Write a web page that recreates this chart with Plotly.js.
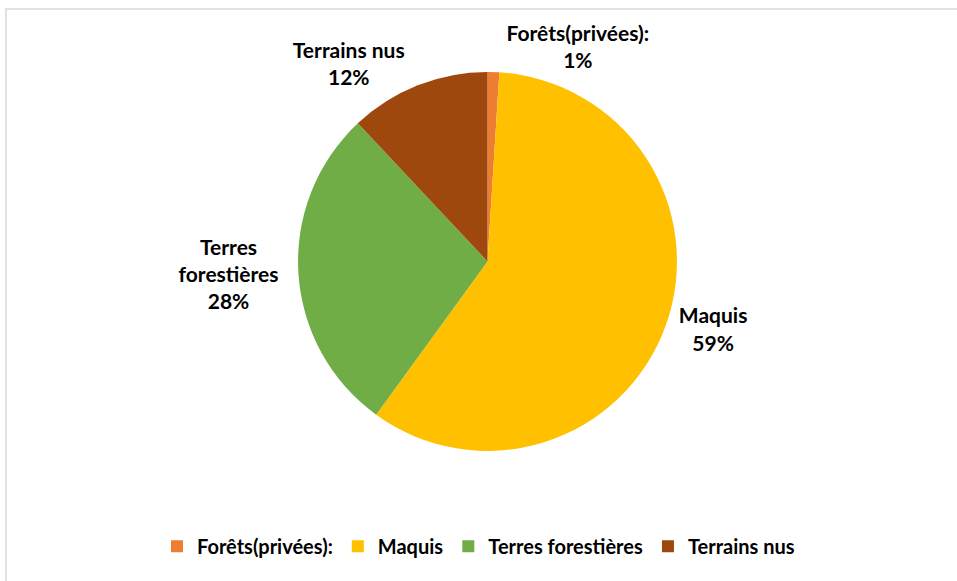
<!DOCTYPE html>
<html>
<head>
<meta charset="utf-8">
<script src="https://cdn.plot.ly/plotly-3.0.1.min.js"></script>
<style>
  html, body { margin: 0; padding: 0; background: #ffffff; }
  #frame { position: absolute; left: 5px; top: 8px; width: 970px; height: 590px; border: 2px solid #dfe3e8; box-sizing: border-box; }
  #chart { position: absolute; left: 0; top: 0; width: 957px; height: 581px; }
</style>
</head>
<body>
<div id="frame"></div>
<div id="chart"></div>
<script>
const categories = ["Forêts(privées):", "Maquis", "Terres forestières", "Terrains nus"];
const sliceLabels = ["Forêts(privées):", "Maquis", "Terres<br>forestières", "Terrains nus"];
const values = [1, 59, 28, 12];
const colors = ["#ED7D31", "#FFC000", "#70AD47", "#9E480E"];

const FONT = 'Lato, "Open Sans", "Noto Sans", sans-serif';

const trace = {
  type: "pie",
  labels: categories,
  values: values,
  text: sliceLabels,
  texttemplate: "<b>%{text}<br>%{percent:.0%}</b>",
  textinfo: "text+percent",
  textposition: "outside",
  outsidetextfont: { family: FONT, size: 21, color: "#000000" },
  sort: false,
  direction: "clockwise",
  rotation: 0,
  marker: { colors: colors, line: { width: 0 } },
  domain: { x: [0, 1], y: [0.1, 1] },
  hoverinfo: "label+percent",
  automargin: false
};

const layout = {
  width: 957,
  height: 581,
  paper_bgcolor: "rgba(0,0,0,0)",
  plot_bgcolor: "rgba(0,0,0,0)",
  margin: { l: 158, r: 140, t: 72, b: 88 },
  font: { family: FONT, color: "#000000" },
  showlegend: true,
  legend: {
    orientation: "h",
    xref: "container",
    yref: "container",
    x: 0.5,
    xanchor: "center",
    y: 0.06,
    yanchor: "middle",
    font: { family: FONT, size: 20, color: "#000000", weight: "bold" },
    itemwidth: 30,
    traceorder: "normal"
  }
};

Plotly.newPlot("chart", [trace], layout, { displayModeBar: false, staticPlot: true });
</script>
</body>
</html>
